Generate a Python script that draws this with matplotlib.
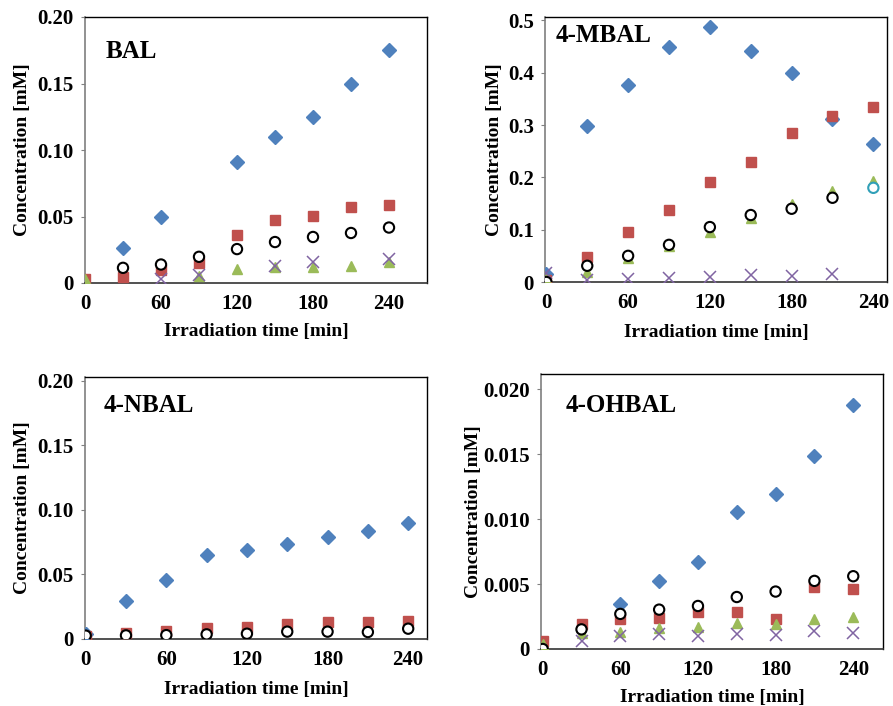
import numpy as np
import matplotlib
matplotlib.use("Agg")
import matplotlib.pyplot as plt

plt.rcParams['font.family'] = ['Liberation Serif', 'DejaVu Serif']
plt.rcParams['font.weight'] = 'bold'

nan = np.nan
time = [0, 30, 60, 90, 120, 150, 180, 210, 240]

# BAL
bal_blue = [nan, 0.026, 0.050, nan, 0.0907, 0.110, 0.125, 0.150, 0.175]
bal_red = [0.003, 0.0045, 0.0096, 0.015, 0.036, 0.047, 0.0505, 0.057, 0.059]
bal_green = [0.003, nan, nan, 0.0056, 0.0106, 0.012, 0.012, 0.013, 0.016]
bal_purple = [nan, nan, 0.003, 0.006, nan, 0.013, 0.016, nan, 0.018]
bal_circle = [nan, 0.0114, 0.0139, 0.0197, 0.0255, 0.0308, 0.0346, 0.0376, 0.0417]

# 4-MBAL
mbal_blue = [0.015, 0.298, 0.377, 0.450, 0.487, 0.441, 0.400, 0.312, 0.264]
mbal_red = [0.003, 0.047, 0.096, 0.137, 0.192, 0.229, 0.285, 0.318, 0.335]
mbal_green = [0.005, 0.019, 0.045, 0.068, 0.096, 0.123, 0.149, 0.174, 0.193]
mbal_purple = [0.017, 0.004, 0.005, 0.007, 0.010, 0.013, 0.012, 0.015, nan]
mbal_circle = [0.0, 0.031, 0.050, 0.071, 0.105, 0.128, 0.140, 0.161, 0.180]

# 4-NBAL
nbal_blue = [0.004, 0.0294, 0.0454, 0.0648, 0.069, 0.0733, 0.079, 0.0834, 0.090]
nbal_red = [0.002, 0.005, 0.0065, 0.0088, 0.0095, 0.0116, 0.0129, 0.0129, 0.0142]
nbal_circle = [0.0026, 0.0028, 0.003, 0.0036, 0.0041, 0.0057, 0.0057, 0.0054, 0.008]

# 4-OHBAL
ohbal_blue = [nan, nan, 0.00347, 0.00526, 0.00673, 0.01053, 0.01196, 0.01484, 0.01879]
ohbal_red = [0.0006, 0.00195, 0.00234, 0.00239, 0.00285, 0.00288, 0.00228, 0.00476, 0.00462]
ohbal_green = [0.0004, 0.00126, 0.00134, 0.00164, 0.00167, 0.00198, 0.00193, 0.00234, 0.00249]
ohbal_purple = [nan, 0.0006, 0.0010, 0.00116, 0.0010, 0.00116, 0.00108, 0.00141, 0.00126]
ohbal_circle = [0.0, 0.00151, 0.0027, 0.00303, 0.00331, 0.0040, 0.00442, 0.00524, 0.0056]

titles = ["BAL", "4-MBAL", "4-NBAL", "4-OHBAL"]
x_ticks = [0, 60, 120, 180, 240]
y_ticks = [[0, 0.05, 0.10, 0.15, 0.20],
           [0, 0.1, 0.2, 0.3, 0.4, 0.5],
           [0, 0.05, 0.10, 0.15, 0.20],
           [0, 0.005, 0.010, 0.015, 0.020]]
y_ticklabels = [["0", "0.05", "0.10", "0.15", "0.20"],
                ["0", "0.1", "0.2", "0.3", "0.4", "0.5"],
                ["0", "0.05", "0.10", "0.15", "0.20"],
                ["0", "0.005", "0.010", "0.015", "0.020"]]
xlabel = "Irradiation time [min]"
ylabel = "Concentration [mM]"

BLUE = '#4F81BD'
RED = '#C0504D'
GREEN = '#9BBB59'
PURPLE = '#8064A2'

W, H = 893, 706
fig = plt.figure(figsize=(W / 100, H / 100), dpi=100)

def frac(l, r, t, b):
    return [l / W, 1 - b / H, (r - l) / W, (b - t) / H]

axes = [fig.add_axes(frac(85, 427, 17, 283)),
        fig.add_axes(frac(545, 887, 17, 282)),
        fig.add_axes(frac(85, 427, 377, 639)),
        fig.add_axes(frac(541, 883, 374, 649))]
xlims = [(0, 270), (-1, 250), (-0.5, 254), (-1.3, 263)]
ylims = [(0, 0.2), (0, 0.5065), (0, 0.203), (0, 0.02116)]
title_pos = [(0.061, 0.872), (0.032, 0.932), (0.053, 0.893), (0.073, 0.884)]
ylab_x = [-0.158, -0.122, -0.158, -0.172]
xlab_y = [-0.151, -0.158, -0.160, -0.145]

def blue(ax, y):
    ax.plot(time, y, 'D', color=BLUE, ms=7, mec=BLUE, ls='none', zorder=3)

def red(ax, y):
    ax.plot(time, y, 's', color=RED, ms=7.5, mec=RED, ls='none', zorder=3)

def green(ax, y):
    ax.plot(time, y, '^', color=GREEN, ms=7.5, mec=GREEN, ls='none', zorder=4)

def purple(ax, y):
    ax.plot(time, y, 'x', color=PURPLE, ms=8, mew=1.1, ls='none', zorder=5)

def circle(ax, y, edges=None):
    ec = edges if edges is not None else ['black'] * len(time)
    ax.scatter(time, y, s=55, facecolors='white', edgecolors=ec,
               linewidths=1.5, zorder=6)

# BAL
ax = axes[0]
blue(ax, bal_blue); red(ax, bal_red); green(ax, bal_green)
purple(ax, bal_purple); circle(ax, bal_circle)

# 4-MBAL
ax = axes[1]
blue(ax, mbal_blue); red(ax, mbal_red); green(ax, mbal_green)
purple(ax, mbal_purple)
circle(ax, mbal_circle, ['black'] * (len(time) - 1) + ['#31A0B8'])

# 4-NBAL
ax = axes[2]
blue(ax, nbal_blue)
ax.plot(time[1:], nbal_red[1:], 's', color=RED, ms=7.5, mec=RED, ls='none', zorder=3)
ax.plot(time[:1], nbal_red[:1], 's', mfc='none', mec=RED, ms=7.5, mew=1, ls='none', zorder=3)
circle(ax, nbal_circle)

# 4-OHBAL
ax = axes[3]
blue(ax, ohbal_blue); red(ax, ohbal_red); green(ax, ohbal_green)
purple(ax, ohbal_purple); circle(ax, ohbal_circle)

for i, ax in enumerate(axes):
    ax.set_xlim(*xlims[i])
    ax.set_ylim(*ylims[i])
    ax.set_xticks(x_ticks)
    ax.set_xticklabels([str(t) for t in x_ticks])
    ax.set_yticks(y_ticks[i])
    ax.set_yticklabels(y_ticklabels[i])
    ax.tick_params(axis='x', length=0, pad=8, labelsize=15)
    ax.tick_params(axis='y', direction='out', length=3, color='#808080',
                   pad=5, labelsize=15)
    for lab in ax.get_xticklabels() + ax.get_yticklabels():
        lab.set_fontweight('bold')
    for s in ['top', 'right']:
        ax.spines[s].set_color('black')
        ax.spines[s].set_linewidth(1.0)
    ax.spines['left'].set_color('#7f7f7f')
    ax.spines['left'].set_linewidth(1.2)
    ax.spines['bottom'].set_color('#333333')
    ax.spines['bottom'].set_linewidth(1.2)
    ax.set_xlabel(xlabel, fontsize=14, fontweight='bold')
    ax.set_ylabel(ylabel, fontsize=14, fontweight='bold')
    ax.xaxis.set_label_coords(0.5, xlab_y[i])
    ax.yaxis.set_label_coords(ylab_x[i], 0.5)
    ax.text(title_pos[i][0], title_pos[i][1], titles[i], transform=ax.transAxes,
            fontsize=18, fontweight='bold', ha='left', va='center')

fig.savefig('out.png', dpi=100)
